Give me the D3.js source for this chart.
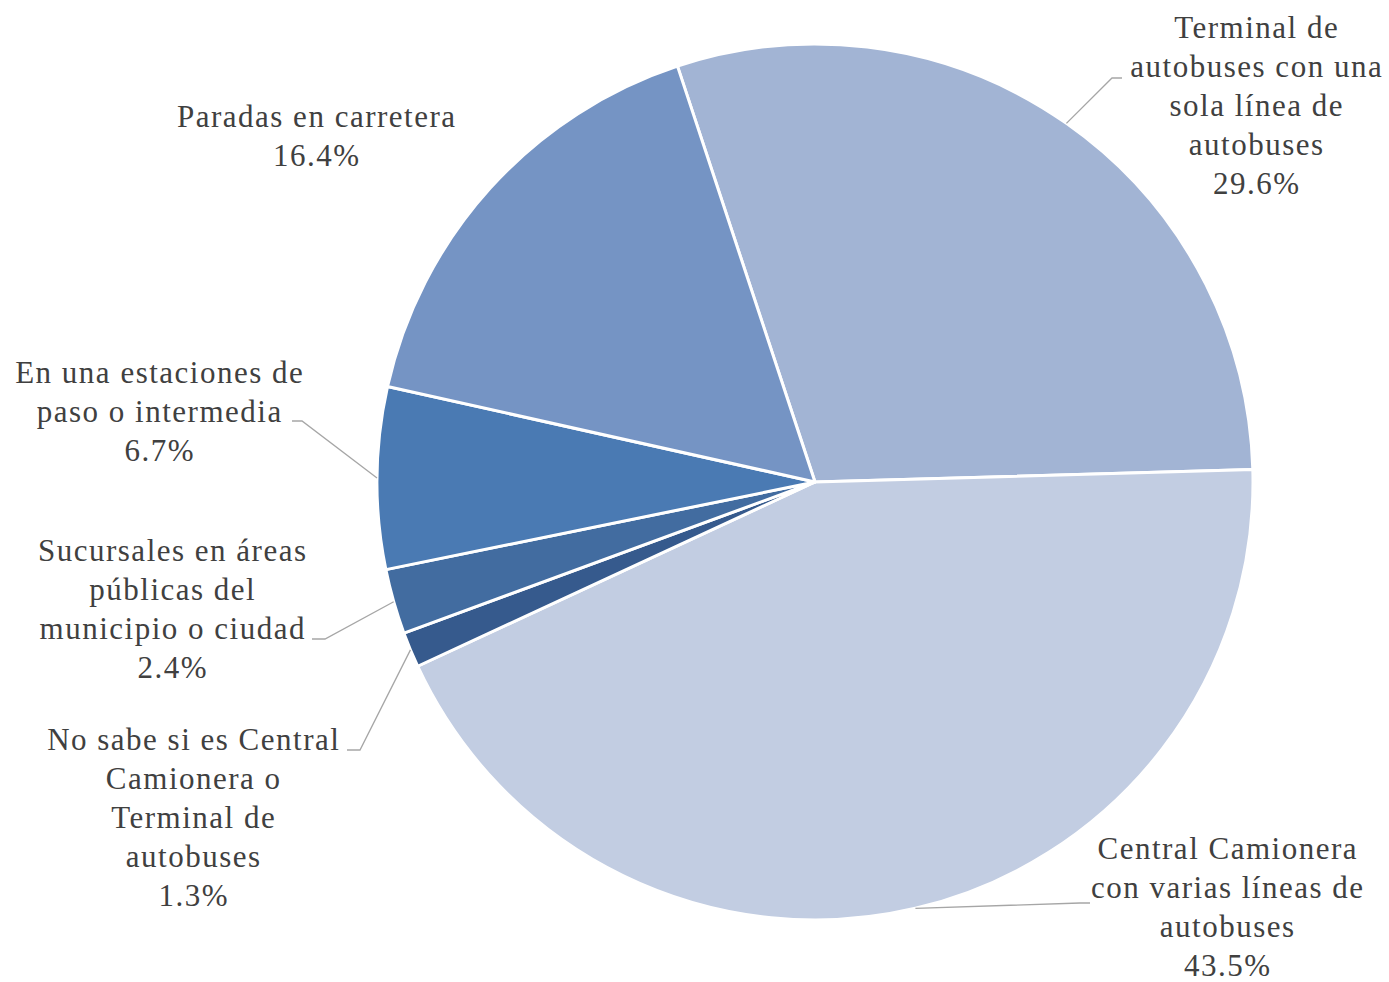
<!DOCTYPE html>
<html>
<head>
<meta charset="utf-8">
<script src="https://cdn.jsdelivr.net/npm/d3@7"></script>
<style>
  body { margin: 0; background: #fff; }
  text { font-family: "Liberation Serif", "DejaVu Serif", serif; fill: #404040; }
</style>
</head>
<body>
<div id="graphic"></div>
<script>
var width = 1389, height = 982;

// data, in drawing order (clockwise)
var categories = [
  ["Terminal de", "autobuses con una", "sola línea de", "autobuses"],
  ["Central Camionera", "con varias líneas de", "autobuses"],
  ["No sabe si es Central", "Camionera o", "Terminal de", "autobuses"],
  ["Sucursales en áreas", "públicas del", "municipio o ciudad"],
  ["En una estaciones de", "paso o intermedia"],
  ["Paradas en carretera"]
];
var values = [29.6, 43.5, 1.3, 2.4, 6.7, 16.4];
var colors = ["#a2b4d4", "#c2cde2", "#365a8d", "#426ca0", "#4a7ab3", "#7594c4"];

// label layout: center x, first baseline y, leader elbow
var labelPos = [
  {x: 1256, y: 38, elbow: [1112, 78], end: 1122, leader: true},
  {x: 1227, y: 859, elbow: [1080, 903], end: 1090, leader: true},
  {x: 193, y: 750, elbow: [360, 750], end: 347, leader: true},
  {x: 172, y: 561, elbow: [325, 639], end: 312, leader: true},
  {x: 159, y: 383, elbow: [302, 421], end: 292, leader: true},
  {x: 316, y: 127, leader: false}
];

var cx = 815, cy = 482, r = 438;
var lineH = 39;
var spacing = 1.5;

var svg = d3.select("#graphic").append("svg")
  .attr("width", width)
  .attr("height", height);

var startA = -18.3 * Math.PI / 180;
var pie = d3.pie().sort(null)
  .startAngle(startA)
  .endAngle(startA + 2 * Math.PI);

var arcs = pie(values);
var arc = d3.arc().innerRadius(0).outerRadius(r);

var g = svg.append("g").attr("transform", "translate(" + cx + "," + cy + ")");

g.selectAll("path")
  .data(arcs)
  .enter().append("path")
  .attr("d", arc)
  .attr("fill", function(d, i) { return colors[i]; })
  .attr("stroke", "#fff")
  .attr("stroke-width", 3)
  .attr("stroke-linejoin", "round");

// leader lines
arcs.forEach(function(d, i) {
  var p = labelPos[i];
  if (!p.leader) return;
  var a = (d.startAngle + d.endAngle) / 2;
  var sx = cx + Math.sin(a) * r, sy = cy - Math.cos(a) * r;
  svg.append("polyline")
    .attr("points", [[sx, sy], p.elbow, [p.end, p.elbow[1]]].map(function(q) { return q.join(","); }).join(" "))
    .attr("fill", "none")
    .attr("stroke", "#a6a6a6")
    .attr("stroke-width", 1.3);
});

// labels
categories.forEach(function(lines, i) {
  var p = labelPos[i];
  var t = svg.append("text")
    .attr("text-anchor", "middle")
    .style("font-size", "31px")
    .style("letter-spacing", spacing + "px");
  lines.concat([d3.format(".1f")(values[i]) + "%"]).forEach(function(s, k) {
    t.append("tspan")
      .attr("x", p.x + spacing / 2)
      .attr("y", p.y + k * lineH)
      .text(s);
  });
});
</script>
</body>
</html>
